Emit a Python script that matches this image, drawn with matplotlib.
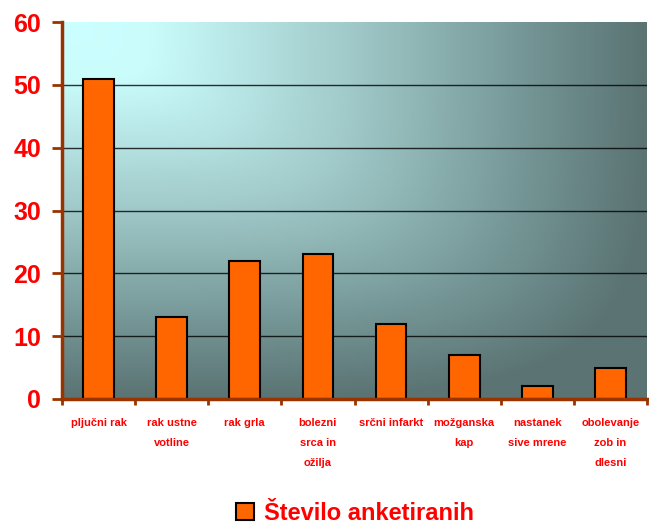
import numpy as np
import matplotlib
matplotlib.use("Agg")
import matplotlib.pyplot as plt
from matplotlib.colors import LinearSegmentedColormap
from matplotlib.patches import Patch

plt.rcParams['font.family'] = ['Liberation Sans', 'DejaVu Sans']

categories = ["pljučni rak", "rak ustne\nvotline", "rak grla", "bolezni\nsrca in\nožilja",
              "srčni infarkt", "možganska\nkap", "nastanek\nsive mrene", "obolevanje\nzob in\ndlesni"]
values = [51, 13, 22, 23, 12, 7, 2, 5]
series_name = "Število anketiranih"
yticks = [0, 10, 20, 30, 40, 50, 60]

W, H = 649, 527
fig = plt.figure(figsize=(W/100, H/100), dpi=100)
left, right, bottom, top = 62/W, 647/W, 1-399/H, 1-22/H
ax = fig.add_axes([left, bottom, right-left, top-bottom])

# corner gradient background from top-left corner
nx, ny = 400, 260
u = np.linspace(0, 1, nx)[None, :]
v = np.linspace(0, 1, ny)[:, None]
p = 5.0
r = np.clip((u**p + v**p) ** (1/p), 0, 1)
cmap = LinearSegmentedColormap.from_list(
    "bg", [(0.0, "#CCFFFF"), (0.15, "#CAFCFC"), (0.5, "#A0C8C8"),
           (0.77, "#789A9A"), (1.0, "#5B7373")])
ax.imshow(r, cmap=cmap, extent=[0, 1, 0, 1], transform=ax.transAxes,
          aspect='auto', origin='upper', zorder=0, vmin=0, vmax=1, interpolation='bilinear')

x = np.arange(len(categories))
ax.set_xlim(-0.5, len(categories) - 0.5)
ax.set_ylim(0, 60)
for yv in yticks[1:-1]:
    ax.axhline(yv, color='black', linewidth=1, zorder=1, alpha=0.8)
ax.bar(x, values, width=0.42, color='#FF6600', edgecolor='black', linewidth=1.5, zorder=2)

ax.set_yticks(yticks)
ax.set_yticklabels([str(v) for v in yticks], color='#FF0000', fontsize=18, fontweight='bold')
ax.tick_params(axis='y', direction='out', length=7, width=2, color='#993300', pad=8)

ax.set_xticks(np.arange(len(categories) + 1) - 0.5)
ax.set_xticklabels([])
ax.tick_params(axis='x', direction='out', length=4, width=2, color='#993300')
for xi, lab in zip(x, categories):
    ax.text(xi, -3.1, lab, ha='center', va='top', color='#FF0000', fontsize=8,
            fontweight='bold', linespacing=2.2)

for s in ['top', 'right']:
    ax.spines[s].set_visible(False)
for s in ['left', 'bottom']:
    ax.spines[s].set_color('#993300')
    ax.spines[s].set_linewidth(2.5)
    ax.spines[s].set_zorder(3)

handle = Patch(facecolor='#FF6600', edgecolor='black', linewidth=1.5)
fig.legend([handle], [series_name], loc='center', bbox_to_anchor=(355/W, 1-513/H),
           frameon=False, prop={'size': 17, 'weight': 'bold'}, labelcolor='#FF0000',
           handlelength=0.75, handleheight=0.75, handletextpad=0.4)

fig.savefig("out.png", dpi=100)
